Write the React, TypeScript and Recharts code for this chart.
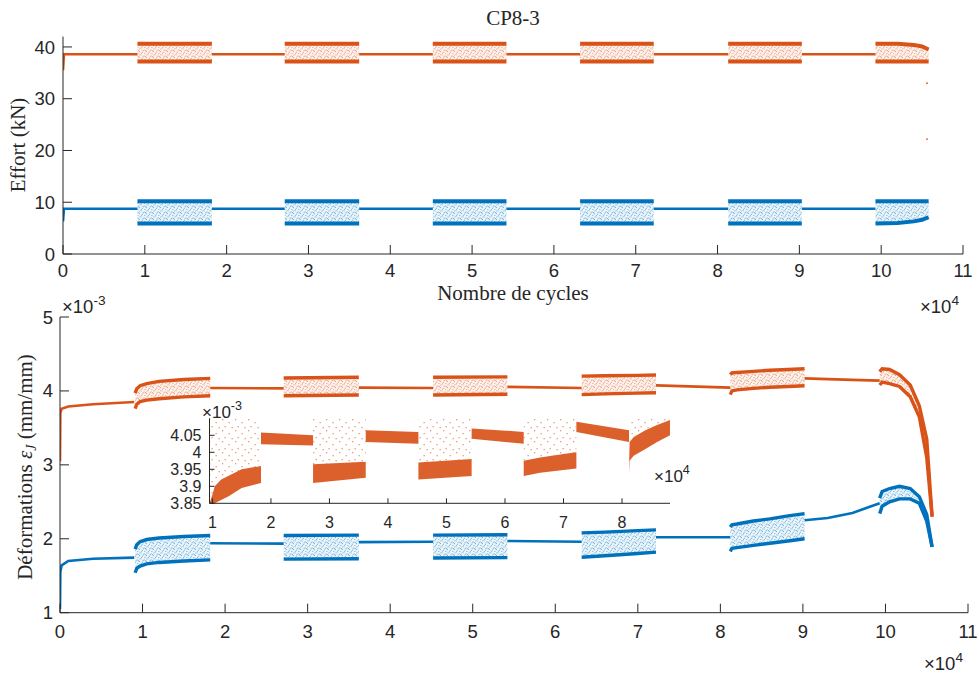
import React from "react";
import { ComposedChart, Line, Area, Scatter, XAxis, YAxis } from "recharts";

const ORANGE = "#D95319";
const BLUE = "#0072BD";
const INK = "#262626";
const SANS = '"Liberation Sans", Arial, Helvetica, sans-serif';
const SERIF = '"Liberation Serif", "Times New Roman", serif';

// ---------- shared x axis (cycles, x 10^4) ----------
const cycleTicks = [0, 1, 2, 3, 4, 5, 6, 7, 8, 9, 10, 11];

// ---------- top: effort (kN) ----------
const effortTicks = [0, 10, 20, 30, 40];
const cycleStart = [0.91, 2.71, 4.52, 6.32, 8.13, 9.93];
const cycleEnd = [1.82, 3.62, 5.42, 7.22, 9.03, 10.58];
const effortOrange = [37.2, 38.6, 40.6]; // min, hold, max
const effortBlue = [5.9, 8.75, 10.2];
const effortStartX = [0, 0.012];
const effortStartOrange = [35.5, 38.6];
const effortStartBlue = [6.3, 8.75];
const lastCycleX = [9.93, 10.2, 10.4, 10.5, 10.58];
const lastOrangeMax = [40.6, 40.6, 40.4, 40.1, 39.5];
const lastBlueMin = [5.9, 6.0, 6.3, 6.6, 7.1];
const strayX = [10.56, 10.56];
const strayEffort = [33.0, 22.2];

// ---------- bottom: strain (x 10^-3) ----------
const strainTicks = [1, 2, 3, 4, 5];
const holdX = [
  [0, 0.004, 0.02, 0.1, 0.4, 0.9],
  [1.82, 2.71],
  [3.62, 4.52],
  [5.42, 6.32],
  [7.22, 8.12],
  [9.02, 9.3, 9.6, 9.93],
];
const holdOrange = [
  [3.05, 3.7, 3.76, 3.79, 3.82, 3.85],
  [4.04, 4.035],
  [4.045, 4.04],
  [4.055, 4.04],
  [4.075, 4.045],
  [4.17, 4.16, 4.15, 4.14],
];
const holdBlue = [
  [1.05, 1.55, 1.64, 1.7, 1.73, 1.745],
  [1.94, 1.935],
  [1.955, 1.96],
  [1.97, 1.96],
  [2.02, 2.02],
  [2.25, 2.28, 2.35, 2.48],
];
const cycX = [
  [0.91, 0.93, 0.97, 1.05, 1.2, 1.5, 1.82],
  [2.71, 3.62],
  [4.52, 5.42],
  [6.32, 6.6, 7.0, 7.22],
  [8.12, 8.14, 8.2, 8.4, 8.6, 8.82, 9.02],
  [9.93, 9.96, 10.05, 10.17, 10.3, 10.41, 10.5, 10.565],
];
const cycOrangeMax = [
  [3.97, 4.03, 4.07, 4.1, 4.13, 4.155, 4.17],
  [4.175, 4.185],
  [4.185, 4.19],
  [4.2, 4.205, 4.21, 4.215],
  [4.22, 4.245, 4.25, 4.265, 4.28, 4.29, 4.3],
  [4.26, 4.3, 4.29, 4.22, 4.08, 3.8, 3.35, 2.3],
];
const cycOrangeMin = [
  [3.76, 3.82, 3.855, 3.875, 3.895, 3.92, 3.935],
  [3.935, 3.945],
  [3.945, 3.955],
  [3.95, 3.96, 3.97, 3.975],
  [3.95, 4.0, 4.015, 4.035, 4.05, 4.06, 4.07],
  [4.08, 4.12, 4.1, 4.06, 3.92, 3.65, 3.1, 2.3],
];
const cycBlueMax = [
  [1.86, 1.92, 1.96, 1.99, 2.01, 2.03, 2.045],
  [2.045, 2.05],
  [2.05, 2.055],
  [2.08, 2.09, 2.11, 2.12],
  [2.16, 2.19, 2.2, 2.24, 2.27, 2.31, 2.34],
  [2.55, 2.64, 2.68, 2.71, 2.68, 2.57, 2.33, 1.89],
];
const cycBlueMin = [
  [1.54, 1.6, 1.63, 1.66, 1.68, 1.7, 1.715],
  [1.725, 1.73],
  [1.74, 1.745],
  [1.75, 1.77, 1.8, 1.82],
  [1.83, 1.87, 1.88, 1.91, 1.94, 1.97, 2.0],
  [2.34, 2.44, 2.5, 2.54, 2.54, 2.48, 2.24, 1.89],
];

// ---------- inset: orange gauge, zoomed ----------
const insetXTicks = [1, 2, 3, 4, 5, 6, 7, 8];
const insetYTicks = [3.85, 3.9, 3.95, 4, 4.05];
const insetCycX = [
  [0.95, 1.0, 1.04, 1.15, 1.27, 1.5, 1.83],
  [2.72, 3.62],
  [4.52, 5.43],
  [6.32, 6.6, 7.0, 7.22],
  [8.12, 8.13, 8.2, 8.4, 8.6, 8.82],
];
const insetCycTop = [
  [3.85, 3.875, 3.9, 3.92, 3.93, 3.95, 3.96],
  [3.965, 3.972],
  [3.97, 3.98],
  [3.975, 3.985, 3.995, 4.0],
  [3.96, 4.03, 4.045, 4.065, 4.08, 4.095],
];
const insetCycBottom = [
  [3.8, 3.83, 3.85, 3.86, 3.87, 3.895, 3.91],
  [3.91, 3.925],
  [3.92, 3.93],
  [3.93, 3.94, 3.948, 3.952],
  [3.94, 3.975, 3.99, 4.01, 4.03, 4.05],
];
const insetHoldX = [
  [1.83, 2.72],
  [3.62, 4.52],
  [5.43, 6.32],
  [7.22, 8.12],
];
const insetHoldTop = [
  [4.058, 4.05],
  [4.065, 4.06],
  [4.07, 4.06],
  [4.09, 4.065],
];
const insetHoldBottom = [
  [4.024, 4.02],
  [4.03, 4.025],
  [4.04, 4.025],
  [4.06, 4.03],
];
const insetScatterTop = 4.16;

type Row = { x: number; [k: string]: number | number[] | undefined };

function buildTopRows(): Row[] {
  const rows: Row[] = [];
  const last = cycleStart.length - 1;
  cycleStart.forEach((s, i) => {
    if (i === 0) {
      effortStartX.forEach((x, k) =>
        rows.push({ x, oHold: effortStartOrange[k], bHold: effortStartBlue[k] })
      );
    } else {
      rows.push({ x: cycleEnd[i - 1], oHold: effortOrange[1], bHold: effortBlue[1] });
    }
    rows.push({ x: s, oHold: effortOrange[1], bHold: effortBlue[1] });
    const xs = i === last ? lastCycleX : [s, cycleEnd[i]];
    xs.forEach((x, k) => {
      const oMax = i === last ? lastOrangeMax[k] : effortOrange[2];
      const bMin = i === last ? lastBlueMin[k] : effortBlue[0];
      rows.push({
        x,
        oMax,
        oMin: effortOrange[0],
        oBand: [effortOrange[0], oMax],
        bMax: effortBlue[2],
        bMin,
        bBand: [bMin, effortBlue[2]],
      });
    });
  });
  return rows;
}

function buildStrainRows(): Row[] {
  const rows: Row[] = [];
  holdX.forEach((xs, i) => {
    xs.forEach((x, k) => rows.push({ x, oHold: holdOrange[i][k], bHold: holdBlue[i][k] }));
    cycX[i].forEach((x, k) =>
      rows.push({
        x,
        oMax: cycOrangeMax[i][k],
        oMin: cycOrangeMin[i][k],
        oBand: [cycOrangeMin[i][k], cycOrangeMax[i][k]],
        bMax: cycBlueMax[i][k],
        bMin: cycBlueMin[i][k],
        bBand: [cycBlueMin[i][k], cycBlueMax[i][k]],
      })
    );
  });
  return rows;
}

function buildInsetRows(): Row[] {
  const rows: Row[] = [];
  insetCycX.forEach((xs, i) => {
    xs.forEach((x, k) =>
      rows.push({
        x,
        dense: [insetCycBottom[i][k], insetCycTop[i][k]],
        sparse: [insetCycTop[i][k], insetScatterTop],
      })
    );
    if (i < insetHoldX.length) {
      insetHoldX[i].forEach((x, k) =>
        rows.push({ x, hold: [insetHoldBottom[i][k], insetHoldTop[i][k]] })
      );
    }
  });
  return rows;
}

const topRows = buildTopRows();
const strainRows = buildStrainRows();
const insetRows = buildInsetRows();
const strayRows = strayX.map((x, i) => ({ x, stray: strayEffort[i] }));

const tickStyle = { fill: INK, fontSize: 18.5, fontFamily: SANS };
const insetTickStyle = { fill: INK, fontSize: 16, fontFamily: SANS };
const axisStroke = { stroke: INK, strokeWidth: 1 };

const speck = [
  [0.4, 0.3],
  [3.6, 1.4],
  [5.9, 3.0],
  [1.8, 3.8],
  [4.3, 5.0],
  [6.4, 0.4],
  [2.6, 2.2],
  [0.9, 5.2],
  [5.0, 2.1],
];

function Patterns() {
  return (
    <defs>
      {[
        ["speckO", ORANGE],
        ["speckB", BLUE],
      ].map(([id, c]) => (
        <pattern key={id} id={id} width={7} height={6} patternUnits="userSpaceOnUse">
          <rect width={7} height={6} fill={c} fillOpacity={0.12} />
          {speck.map(([px, py], i) => (
            <rect key={i} x={px} y={py} width={1.1} height={1.1} fill={c} fillOpacity={0.85} />
          ))}
        </pattern>
      ))}
      <pattern id="sparseO" width={13} height={11} patternUnits="userSpaceOnUse">
        <rect x={1} y={1} width={1.3} height={1.3} fill={ORANGE} />
        <rect x={7.5} y={4} width={1.3} height={1.3} fill={ORANGE} />
        <rect x={3.5} y={8} width={1.3} height={1.3} fill={ORANGE} />
        <rect x={10.5} y={9} width={1.3} height={1.3} fill={ORANGE} />
      </pattern>
    </defs>
  );
}

function TopChart() {
  return (
    <ComposedChart
      width={979}
      height={673}
      data={topRows}
      margin={{ top: 36.6, right: 16, left: 13, bottom: 389 }}
    >
      <XAxis
        type="number"
        dataKey="x"
        domain={[0, 11]}
        ticks={cycleTicks}
        interval={0}
        allowDataOverflow
        height={30}
        tick={tickStyle}
        axisLine={axisStroke}
        tickLine={axisStroke}
        tickSize={-9}
        tickMargin={19}
      />
      <YAxis
        type="number"
        domain={[0, 42]}
        ticks={effortTicks}
        interval={0}
        allowDataOverflow
        width={50}
        tick={tickStyle}
        axisLine={axisStroke}
        tickLine={axisStroke}
        tickSize={-9}
        tickMargin={17}
      />
      <Area dataKey="oBand" type="linear" stroke="none" fill="url(#speckO)" isAnimationActive={false} />
      <Area dataKey="bBand" type="linear" stroke="none" fill="url(#speckB)" isAnimationActive={false} />
      <Line dataKey="oMax" type="linear" stroke={ORANGE} strokeWidth={4} dot={false} isAnimationActive={false} />
      <Line dataKey="oMin" type="linear" stroke={ORANGE} strokeWidth={4} dot={false} isAnimationActive={false} />
      <Line dataKey="oHold" type="linear" stroke={ORANGE} strokeWidth={2.6} dot={false} isAnimationActive={false} />
      <Line dataKey="bMax" type="linear" stroke={BLUE} strokeWidth={4} dot={false} isAnimationActive={false} />
      <Line dataKey="bMin" type="linear" stroke={BLUE} strokeWidth={4} dot={false} isAnimationActive={false} />
      <Line dataKey="bHold" type="linear" stroke={BLUE} strokeWidth={2.6} dot={false} isAnimationActive={false} />
      <Scatter
        data={strayRows}
        dataKey="stray"
        fill={ORANGE}
        isAnimationActive={false}
        shape={(p: any) => <circle cx={p.cx} cy={p.cy} r={0.9} fill={ORANGE} />}
      />
    </ComposedChart>
  );
}

function StrainChart() {
  return (
    <ComposedChart
      width={979}
      height={673}
      data={strainRows}
      margin={{ top: 317, right: 11, left: 10, bottom: 30.3 }}
    >
      <XAxis
        type="number"
        dataKey="x"
        domain={[0, 11]}
        ticks={cycleTicks}
        interval={0}
        allowDataOverflow
        height={30}
        tick={tickStyle}
        axisLine={axisStroke}
        tickLine={axisStroke}
        tickSize={-9}
        tickMargin={21}
      />
      <YAxis
        type="number"
        domain={[1, 5]}
        ticks={strainTicks}
        interval={0}
        allowDataOverflow
        width={50}
        tick={tickStyle}
        axisLine={axisStroke}
        tickLine={axisStroke}
        tickSize={-9}
        tickMargin={16}
      />
      <Area dataKey="oBand" type="linear" stroke="none" fill="url(#speckO)" isAnimationActive={false} />
      <Area dataKey="bBand" type="linear" stroke="none" fill="url(#speckB)" isAnimationActive={false} />
      <Line dataKey="oMax" type="linear" stroke={ORANGE} strokeWidth={3.4} dot={false} isAnimationActive={false} />
      <Line dataKey="oMin" type="linear" stroke={ORANGE} strokeWidth={3.4} dot={false} isAnimationActive={false} />
      <Line dataKey="oHold" type="linear" stroke={ORANGE} strokeWidth={2.6} dot={false} isAnimationActive={false} />
      <Line dataKey="bMax" type="linear" stroke={BLUE} strokeWidth={3.4} dot={false} isAnimationActive={false} />
      <Line dataKey="bMin" type="linear" stroke={BLUE} strokeWidth={3.4} dot={false} isAnimationActive={false} />
      <Line dataKey="bHold" type="linear" stroke={BLUE} strokeWidth={2.6} dot={false} isAnimationActive={false} />
    </ComposedChart>
  );
}

function InsetChart() {
  return (
    <ComposedChart
      width={979}
      height={673}
      data={insetRows}
      margin={{ top: 418.3, right: 309, left: 159.5, bottom: 139.7 }}
    >
      <XAxis
        type="number"
        dataKey="x"
        domain={[0.95, 8.82]}
        ticks={insetXTicks}
        interval={0}
        allowDataOverflow
        height={30}
        tick={insetTickStyle}
        axisLine={axisStroke}
        tickLine={axisStroke}
        tickSize={-5}
        tickMargin={18}
      />
      <YAxis
        type="number"
        domain={[3.85, 4.1]}
        ticks={insetYTicks}
        interval={0}
        allowDataOverflow
        width={50}
        tick={insetTickStyle}
        axisLine={axisStroke}
        tickLine={axisStroke}
        tickSize={-5}
        tickMargin={13}
      />
      <Area dataKey="sparse" type="linear" stroke="none" fill="url(#sparseO)" isAnimationActive={false} />
      <Area dataKey="dense" type="linear" stroke="none" fill={ORANGE} fillOpacity={0.92} isAnimationActive={false} />
      <Area dataKey="hold" type="linear" stroke="none" fill={ORANGE} fillOpacity={0.92} isAnimationActive={false} />
    </ComposedChart>
  );
}

function Exponent({ x, y, exp, size = 18.5 }: { x: number; y: number; exp: string; size?: number }) {
  return (
    <text x={x} y={y} fontFamily={SANS} fontSize={size} fill={INK}>
      ×10
      <tspan dy={-8.5} fontSize={size * 0.74}>
        {exp}
      </tspan>
    </text>
  );
}

function Annotations() {
  return (
    <svg width={979} height={673} style={{ position: "absolute", left: 0, top: 0 }}>
      <Patterns />
      <text x={513} y={25} textAnchor="middle" fontFamily={SERIF} fontSize={21} fill={INK}>
        CP8-3
      </text>
      <text x={513} y={300} textAnchor="middle" fontFamily={SERIF} fontSize={21} fill={INK}>
        Nombre de cycles
      </text>
      <text
        transform="translate(25 145) rotate(-90)"
        textAnchor="middle"
        fontFamily={SERIF}
        fontSize={21}
        fill={INK}
      >
        Effort (kN)
      </text>
      <text
        transform="translate(32 467) rotate(-90)"
        textAnchor="middle"
        fontFamily={SERIF}
        fontSize={21}
        fill={INK}
      >
        Déformations <tspan fontStyle="italic">ε</tspan>
        <tspan fontStyle="italic" fontSize={14} dy={4}>
          J
        </tspan>
        <tspan dy={-4}> (mm/mm)</tspan>
      </text>
      <Exponent x={920} y={313} exp="4" />
      <Exponent x={62} y={313} exp="-3" />
      <Exponent x={924} y={670} exp="4" />
      <Exponent x={202} y={418} exp="-3" size={17} />
      <Exponent x={654} y={482} exp="4" size={17} />
    </svg>
  );
}

export default function App() {
  return (
    <div
      style={{
        position: "absolute",
        left: 0,
        top: 0,
        width: 979,
        height: 673,
        background: "#fff",
        overflow: "hidden",
      }}
    >
      <div style={{ position: "absolute", left: 0, top: 0 }}>
        <TopChart />
      </div>
      <div style={{ position: "absolute", left: 0, top: 0 }}>
        <StrainChart />
      </div>
      <div style={{ position: "absolute", left: 0, top: 0 }}>
        <InsetChart />
      </div>
      <Annotations />
    </div>
  );
}
